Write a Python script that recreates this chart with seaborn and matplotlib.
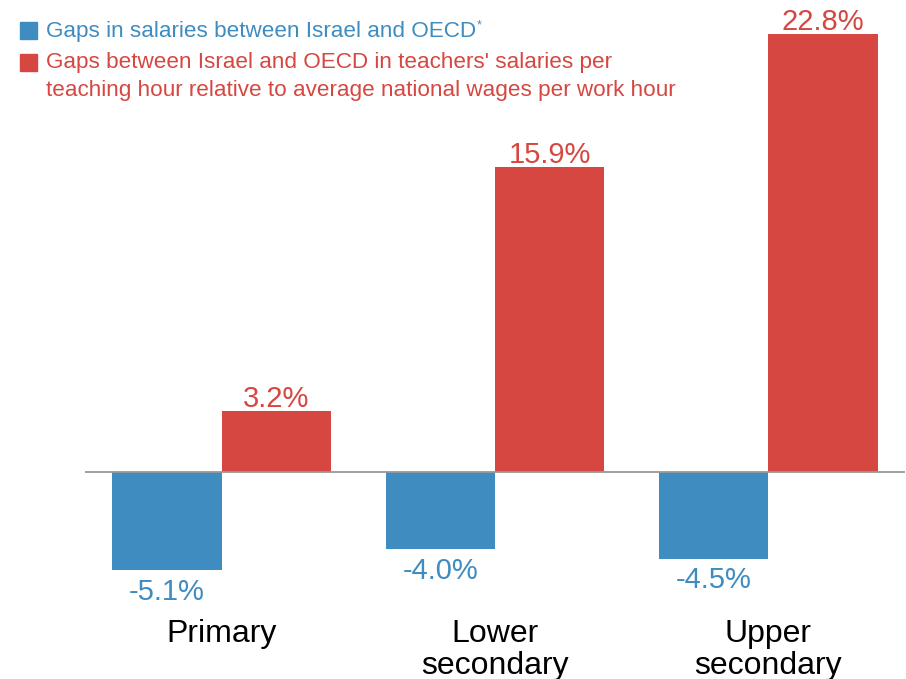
import matplotlib
matplotlib.use("Agg")
import matplotlib.pyplot as plt
import seaborn as sns
import pandas as pd
from matplotlib.patches import Rectangle

categories = ["Primary", "Lower\nsecondary", "Upper\nsecondary"]
salary_gap = [-5.1, -4.0, -4.5]
hourly_gap = [3.2, 15.9, 22.8]
series_names = [
    "Gaps in salaries between Israel and OECD",
    "Gaps between Israel and OECD in teachers' salaries per\nteaching hour relative to average national wages per work hour",
]

BLUE = "#3E8CC0"
RED = "#D54740"
W, H = 906, 679

df = pd.DataFrame({
    "level": categories * 2,
    "series": [series_names[0]] * 3 + [series_names[1]] * 3,
    "value": salary_gap + hourly_gap,
})

sns.set_theme(style="white")
plt.rcParams["font.family"] = ["Liberation Sans", "DejaVu Sans"]

fig = plt.figure(figsize=(W / 100, H / 100), dpi=100)
ax = fig.add_axes([85 / W, 79 / H, 820 / W, 566 / H])
sns.barplot(data=df, x="level", y="value", hue="series", order=categories,
            hue_order=series_names, palette=[BLUE, RED], width=0.8,
            saturation=1, linewidth=0, legend=False, ax=ax)

ax.set_xlim(-0.5, 2.5)
ax.set_ylim(-6.66, 22.8)
for s in ax.spines.values():
    s.set_visible(False)
ax.axhline(0, color="#999999", lw=1.3, zorder=3)
ax.set_yticks([])
ax.set_xlabel("")
ax.set_ylabel("")
ax.tick_params(axis="x", length=0, pad=14, labelsize=23, colors="black")
for lbl in ax.get_xticklabels():
    lbl.set_linespacing(1.05)

vals = [salary_gap, hourly_gap]
pads = [5.6, -1.6]
for cont, v, col, p in zip(ax.containers, vals, [BLUE, RED], pads):
    ax.bar_label(cont, labels=[f"{x:.1f}%" for x in v], padding=p,
                 color=col, fontsize=21, annotation_clip=False)

def fx(px):
    return px / W

def fy(py):
    return 1 - py / H

fig.patches.append(Rectangle((fx(20), fy(39)), 17 / W, 17 / H,
                             transform=fig.transFigure, color=BLUE))
fig.patches.append(Rectangle((fx(20), fy(71)), 17 / W, 17 / H,
                             transform=fig.transFigure, color=RED))
t0 = fig.text(fx(46), fy(31.5), series_names[0], va="center", ha="left",
              fontsize=16.2, color=BLUE)
fig.text(fx(46), fy(76.5), series_names[1], va="center", ha="left",
         fontsize=16.2, color=RED, linespacing=1.38)

fig.canvas.draw()
bb = t0.get_window_extent()
fig.text(fx(bb.x1 + 1), fy(25), "*", va="center", ha="left",
         fontsize=9, color=BLUE)

fig.savefig("out.png", dpi=100)
